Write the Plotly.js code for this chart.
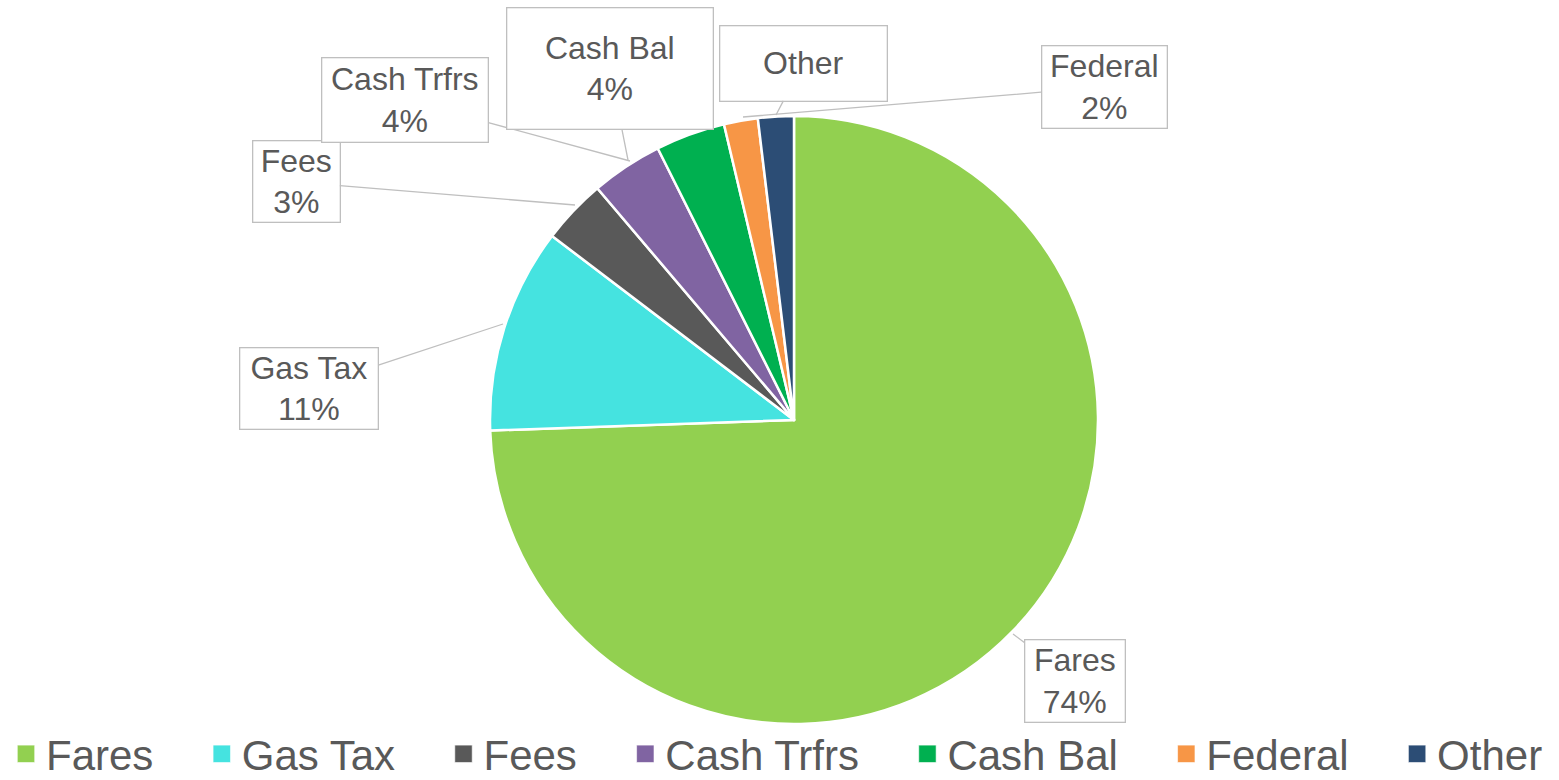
<!DOCTYPE html>
<html>
<head>
<meta charset="utf-8">
<script src="https://cdn.plot.ly/plotly-3.0.1.min.js"></script>
<style>html,body{margin:0;padding:0;background:#fff;}#chart{width:1559px;height:780px;}</style>
</head>
<body>
<div id="chart"></div>
<script>
// Data
var categories = ["Fares", "Gas Tax", "Fees", "Cash Trfrs", "Cash Bal", "Federal", "Other"];
var shares = [74.45, 10.9, 3.45, 3.8, 3.7, 1.8, 1.9];
var sliceColors = ["#92D050", "#45E3E0", "#595959", "#8064A2", "#00B050", "#F79646", "#2C4D75"];
var showPercent = [true, true, true, true, true, true, false];

// Label layout (pixels in the 1559x780 page): leader tip, box centre, box size
var W = 1559, H = 780;
var labelTip = [[1013, 634], [503, 324], [575, 205], [630, 161], [628, 160], [743, 117], [776, 115]];
var labelBox = [[1075, 681], [309, 388], [296, 182], [405, 100], [610, 69], [1104, 87], [803, 63]];
var labelSize = [[99, 81], [137, 80], [86, 80], [165, 83], [205, 120], [124, 81], [166, 74]];

// legend entries get a little trailing room so they spread like the reference
var legendPad = "\u00a0\u00a0\u00a0\u2009";
var legendLabels = categories.map(function (c, i) {
  return i < categories.length - 1 ? c + legendPad : c;
});

var total = shares.reduce(function (a, b) { return a + b; }, 0);
var annotations = categories.map(function (c, i) {
  var pct = Math.round(shares[i] / total * 100);
  var txt = showPercent[i] ? c + "<br>" + pct + "%" : c;
  return {
    xref: "paper", yref: "paper",
    x: labelTip[i][0] / W, y: 1 - labelTip[i][1] / H,
    ax: labelBox[i][0] - labelTip[i][0], ay: labelBox[i][1] - labelTip[i][1],
    axref: "pixel", ayref: "pixel",
    text: txt, showarrow: true, arrowhead: 0, arrowwidth: 1.3, arrowcolor: "#BFBFBF",
    standoff: 0, startstandoff: 0,
    width: labelSize[i][0], height: labelSize[i][1], borderpad: 0,
    bordercolor: "#BFBFBF", borderwidth: 1.3, bgcolor: "#FFFFFF",
    align: "center", valign: "middle",
    font: {family: "Liberation Sans, Arial, sans-serif", size: 32, color: "#595959"}
  };
});

var trace = {
  type: "pie",
  labels: legendLabels,
  values: shares,
  sort: false,
  direction: "clockwise",
  rotation: 0,
  textinfo: "none",
  hoverinfo: "label+percent",
  marker: {colors: sliceColors, line: {color: "#FFFFFF", width: 2.5}},
  domain: {x: [490 / W, 1098 / W], y: [1 - 724 / H, 1 - 116 / H]}
};

var layout = {
  width: W, height: H,
  margin: {l: 0, r: 0, t: 0, b: 0, pad: 0, autoexpand: false},
  paper_bgcolor: "#FFFFFF",
  showlegend: true,
  legend: {
    orientation: "h",
    xref: "paper", yref: "paper",
    x: 6 / W, xanchor: "left", y: -8 / H, yanchor: "bottom",
    font: {family: "Liberation Sans, Arial, sans-serif", size: 42, color: "#595959"},
    bgcolor: "rgba(0,0,0,0)", borderwidth: 0
  },
  annotations: annotations
};

Plotly.newPlot("chart", [trace], layout, {displayModeBar: false, staticPlot: true}).then(function () {
  document.querySelectorAll(".legend .legendpoints path").forEach(function (p) {
    p.setAttribute("transform", "translate(20,0) scale(1.45)");
    p.style.strokeWidth = "0.4px";
  });
});
</script>
</body>
</html>
